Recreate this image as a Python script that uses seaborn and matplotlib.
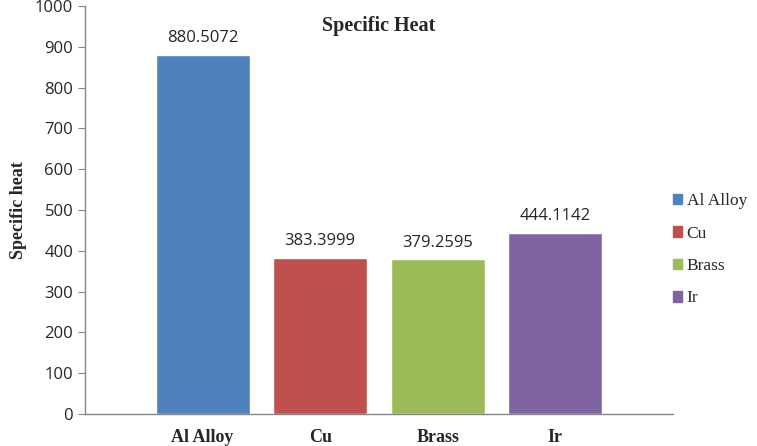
import matplotlib.pyplot as plt
import pandas as pd
import seaborn as sns
from matplotlib.patches import Patch

materials = ["Al Alloy", "Cu", "Brass", "Ir"]
specific_heat = [880.5072, 383.3999, 379.2595, 444.1142]
value_labels = ["880.5072", "383.3999", "379.2595", "444.1142"]
colors = ["#4F81BD", "#C0504D", "#9BBB59", "#8064A2"]


def main():
    sns.set_style("white")
    plt.rcParams["font.family"] = ["Open Sans", "DejaVu Sans"]

    df = pd.DataFrame({"material": materials, "heat": specific_heat})

    fig = plt.figure(figsize=(7.57, 4.46), dpi=100)
    ax = fig.add_axes([0.1123, 0.0717, 0.7767, 0.9148])

    sns.barplot(data=df, x="material", y="heat", hue="material",
                palette=colors, width=0.8, legend=False, ax=ax, saturation=1)

    ax.set_xlim(-1, 4)
    ax.set_ylim(0, 1000)
    ax.set_yticks(range(0, 1001, 100))
    ax.tick_params(axis="y", labelsize=12, length=5, color="#868686", left=True)
    ax.tick_params(axis="x", length=0, pad=11)
    for lab in ax.get_xticklabels():
        lab.set_fontfamily("Liberation Serif")
        lab.set_fontweight("bold")
        lab.set_fontsize(13)

    for c, lab in zip(ax.containers, value_labels):
        ax.bar_label(c, labels=[lab], padding=6, fontsize=12)

    sns.despine(ax=ax)
    for s in ["left", "bottom"]:
        ax.spines[s].set_color("#868686")
        ax.spines[s].set_linewidth(1)

    ax.set_xlabel("")
    ax.set_ylabel("Specific heat", fontfamily="Liberation Serif",
                  fontweight="bold", fontsize=13, labelpad=6)
    ax.text(0.5, 0.975, "Specific Heat", transform=ax.transAxes, ha="center",
            va="top", fontfamily="Liberation Serif", fontweight="bold", fontsize=14.5)

    handles = [Patch(color=col, label=m) for m, col in zip(materials, colors)]
    fig.legend(handles=handles, loc="center left", bbox_to_anchor=(0.868, 0.44),
               frameon=False, prop={"family": "Liberation Serif", "size": 12.5},
               handlelength=0.55, handleheight=0.55, handletextpad=0.25,
               labelspacing=0.95)

    fig.savefig("out.png", dpi=100)


if __name__ == "__main__":
    main()
